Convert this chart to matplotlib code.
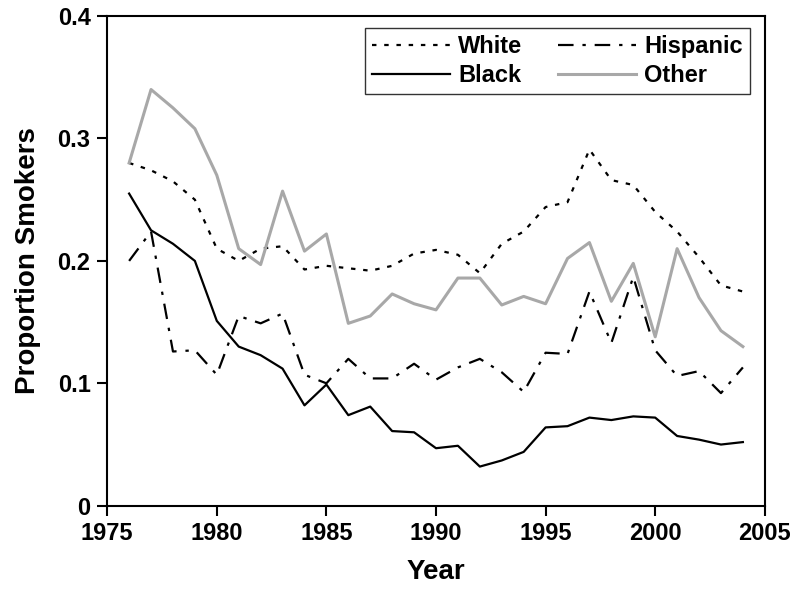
import matplotlib.pyplot as plt

years = list(range(1976, 2005))

white = [0.280, 0.274, 0.265, 0.250, 0.210, 0.200, 0.210, 0.212, 0.193, 0.196,
         0.194, 0.192, 0.196, 0.206, 0.209, 0.205, 0.190, 0.214, 0.224, 0.244,
         0.248, 0.291, 0.266, 0.262, 0.240, 0.224, 0.203, 0.180, 0.175]
black = [0.255, 0.225, 0.214, 0.200, 0.151, 0.130, 0.123, 0.112, 0.082, 0.099,
         0.074, 0.081, 0.061, 0.060, 0.047, 0.049, 0.032, 0.037, 0.044, 0.064,
         0.065, 0.072, 0.070, 0.073, 0.072, 0.057, 0.054, 0.050, 0.052]
hispanic = [0.200, 0.224, 0.126, 0.127, 0.107, 0.155, 0.149, 0.157, 0.107, 0.100,
            0.120, 0.104, 0.104, 0.116, 0.103, 0.113, 0.120, 0.109, 0.093, 0.125,
            0.124, 0.175, 0.133, 0.187, 0.127, 0.106, 0.110, 0.092, 0.113]
other = [0.280, 0.340, 0.325, 0.308, 0.270, 0.210, 0.197, 0.257, 0.208, 0.222,
         0.149, 0.155, 0.173, 0.165, 0.160, 0.186, 0.186, 0.164, 0.171, 0.165,
         0.202, 0.215, 0.167, 0.198, 0.138, 0.210, 0.170, 0.143, 0.130]

xticks = [1975, 1980, 1985, 1990, 1995, 2000, 2005]
yticks = [0, 0.1, 0.2, 0.3, 0.4]
ytick_labels = ['0', '0.1', '0.2', '0.3', '0.4']

plt.rcParams['font.family'] = ['Liberation Sans', 'DejaVu Sans']
plt.rcParams['font.weight'] = 'bold'

fig = plt.figure(figsize=(8, 5.95), dpi=100)
ax = fig.add_axes([0.134, 0.15, 0.822, 0.823])

ax.plot(years, white, color='black', lw=1.6, ls=(0, (2, 3.5)), label='White')
ax.plot(years, black, color='black', lw=1.6, ls='-', label='Black')
ax.plot(years, hispanic, color='black', lw=1.6, ls=(0, (7, 4, 1.5, 4)), label='Hispanic')
ax.plot(years, other, color='#a8a8a8', lw=2.2, ls='-', label='Other')

ax.set_xlim(1975, 2005)
ax.set_ylim(0, 0.4)
ax.set_xticks(xticks)
ax.set_yticks(yticks)
ax.set_yticklabels(ytick_labels)
ax.tick_params(direction='out', length=7, width=1.5, labelsize=17, pad=5)
for s in ax.spines.values():
    s.set_linewidth(1.5)

ax.set_xlabel('Year', fontsize=20, fontweight='bold', labelpad=10)
ax.set_ylabel('Proportion Smokers', fontsize=20, fontweight='bold', labelpad=12)

leg = ax.legend(ncol=2, loc='upper right', bbox_to_anchor=(0.977, 0.9755),
                fontsize=17, frameon=True, fancybox=False, edgecolor='black',
                handlelength=3.3, handletextpad=0.35, columnspacing=1.5,
                labelspacing=0.25, borderpad=0.3, borderaxespad=0)
leg.get_frame().set_linewidth(1.0)

fig.savefig('out.png', dpi=100)
